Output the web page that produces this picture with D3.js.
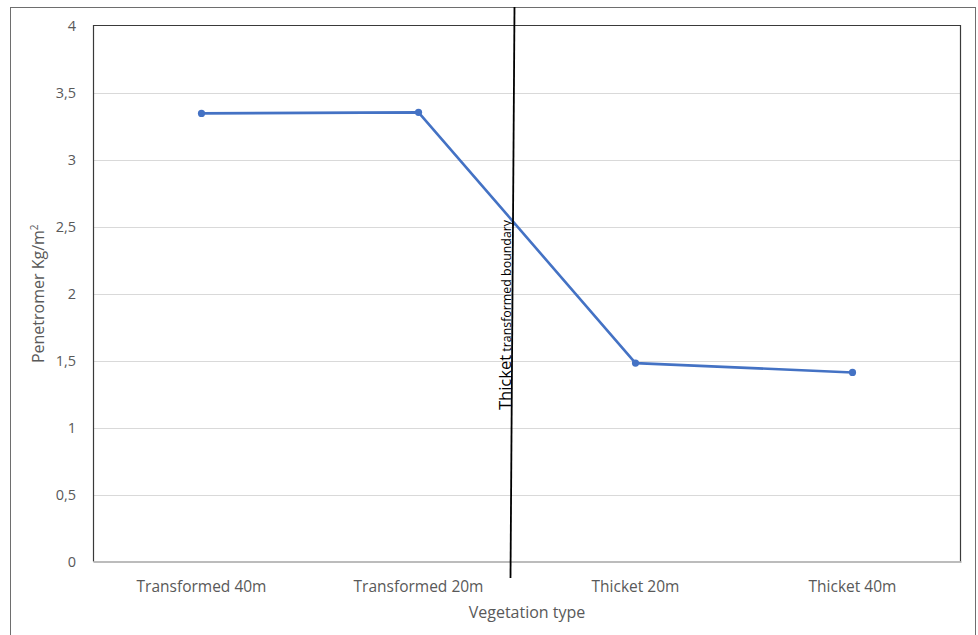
<!DOCTYPE html>
<html>
<head>
<meta charset="utf-8">
<script src="https://cdn.jsdelivr.net/npm/d3@7"></script>
<style>
  html, body { margin: 0; padding: 0; background: #fff; }
  svg { display: block; }
  text { font-family: "Open Sans", Lato, sans-serif; }
</style>
</head>
<body>
<svg id="chart" width="978" height="635"></svg>
<script>
// Penetrometer readings by vegetation type
const categories = ["Transformed 40m", "Transformed 20m", "Thicket 20m", "Thicket 40m"];
const penetrometer = [3.347, 3.355, 1.482, 1.412];
const yTicks = [0, 0.5, 1, 1.5, 2, 2.5, 3, 3.5, 4];

const FONT = "'Open Sans', Lato, sans-serif";
const svg = d3.select("#chart");
const plot = { left: 93, right: 961, top: 26, bottom: 561.5 };

// outer chart frame
svg.append("rect")
  .attr("x", 10.5).attr("y", 7.5)
  .attr("width", 965).attr("height", 640)
  .attr("fill", "#fff").attr("stroke", "#6e6e6e").attr("stroke-width", 1);

const x = d3.scaleBand().domain(categories).range([plot.left, plot.right]).padding(0);
const y = d3.scaleLinear().domain([0, 4]).range([plot.bottom, plot.top]);

// gridlines
svg.append("g")
  .selectAll("line")
  .data(yTicks.filter(t => t > 0 && t < 4))
  .join("line")
  .attr("x1", plot.left).attr("x2", plot.right)
  .attr("y1", d => Math.round(y(d)) + 0.5).attr("y2", d => Math.round(y(d)) + 0.5)
  .attr("stroke", "#d9d9d9").attr("stroke-width", 1);

// plot frame
svg.append("path")
  .attr("d", `M${plot.left + 0.5},${plot.bottom} V${plot.top - 0.5} H${plot.right - 0.5} V${plot.bottom}`)
  .attr("fill", "none").attr("stroke", "#3a3a3a").attr("stroke-width", 1.2);

// y axis labels
const yAxis = d3.axisLeft(y).tickValues(yTicks).tickSize(0).tickPadding(0)
  .tickFormat(d => String(d).replace(".", ","));
const gy = svg.append("g").attr("transform", `translate(${plot.left - 17},0)`).call(yAxis);
gy.select(".domain").remove();
gy.selectAll("text").attr("font-size", 14.5).attr("fill", "#595959").attr("font-family", FONT);

// x axis
const xAxis = d3.axisBottom(x).tickSize(0).tickPadding(0);
const gx = svg.append("g").attr("transform", `translate(0,${plot.bottom})`).call(xAxis);
gx.select(".domain").attr("stroke", "#a6a6a6").attr("stroke-width", 1.5);
gx.selectAll("text").attr("font-size", 15.5).attr("fill", "#595959").attr("dy", 0)
  .attr("y", 30).attr("font-family", FONT);

// axis titles
svg.append("text")
  .attr("x", (plot.left + plot.right) / 2).attr("y", 618)
  .attr("text-anchor", "middle").attr("font-size", 16).attr("fill", "#595959")
  .text("Vegetation type");

const yt = svg.append("text")
  .attr("transform", `translate(44,${(plot.top + plot.bottom) / 2}) rotate(-90)`)
  .attr("text-anchor", "middle").attr("font-size", 16).attr("fill", "#595959");
yt.append("tspan").text("Penetromer Kg/m");
yt.append("tspan").attr("font-size", 10).attr("dy", -6).text("2");

// data line and markers
const line = d3.line().x(d => x(d.c) + x.bandwidth() / 2).y(d => y(d.v));
const pts = categories.map((c, i) => ({ c, v: penetrometer[i] }));
svg.append("path").datum(pts)
  .attr("d", line).attr("fill", "none")
  .attr("stroke", "#4472c4").attr("stroke-width", 2.6).attr("stroke-linejoin", "round");
svg.append("g").selectAll("circle").data(pts).join("circle")
  .attr("cx", d => x(d.c) + x.bandwidth() / 2).attr("cy", d => y(d.v))
  .attr("r", 3.6).attr("fill", "#4472c4");

// boundary marker between transformed and thicket plots
svg.append("line")
  .attr("x1", 514.5).attr("y1", 7).attr("x2", 510.5).attr("y2", 578)
  .attr("stroke", "#000").attr("stroke-width", 1.8);

const bt = svg.append("text")
  .attr("transform", "translate(510.5,410) rotate(-90)")
  .attr("fill", "#000").attr("font-family", FONT);
bt.append("tspan").attr("font-size", 16.5).text("Thicket");
bt.append("tspan").attr("font-size", 12.4).text(" transformed boundary");
</script>
</body>
</html>
